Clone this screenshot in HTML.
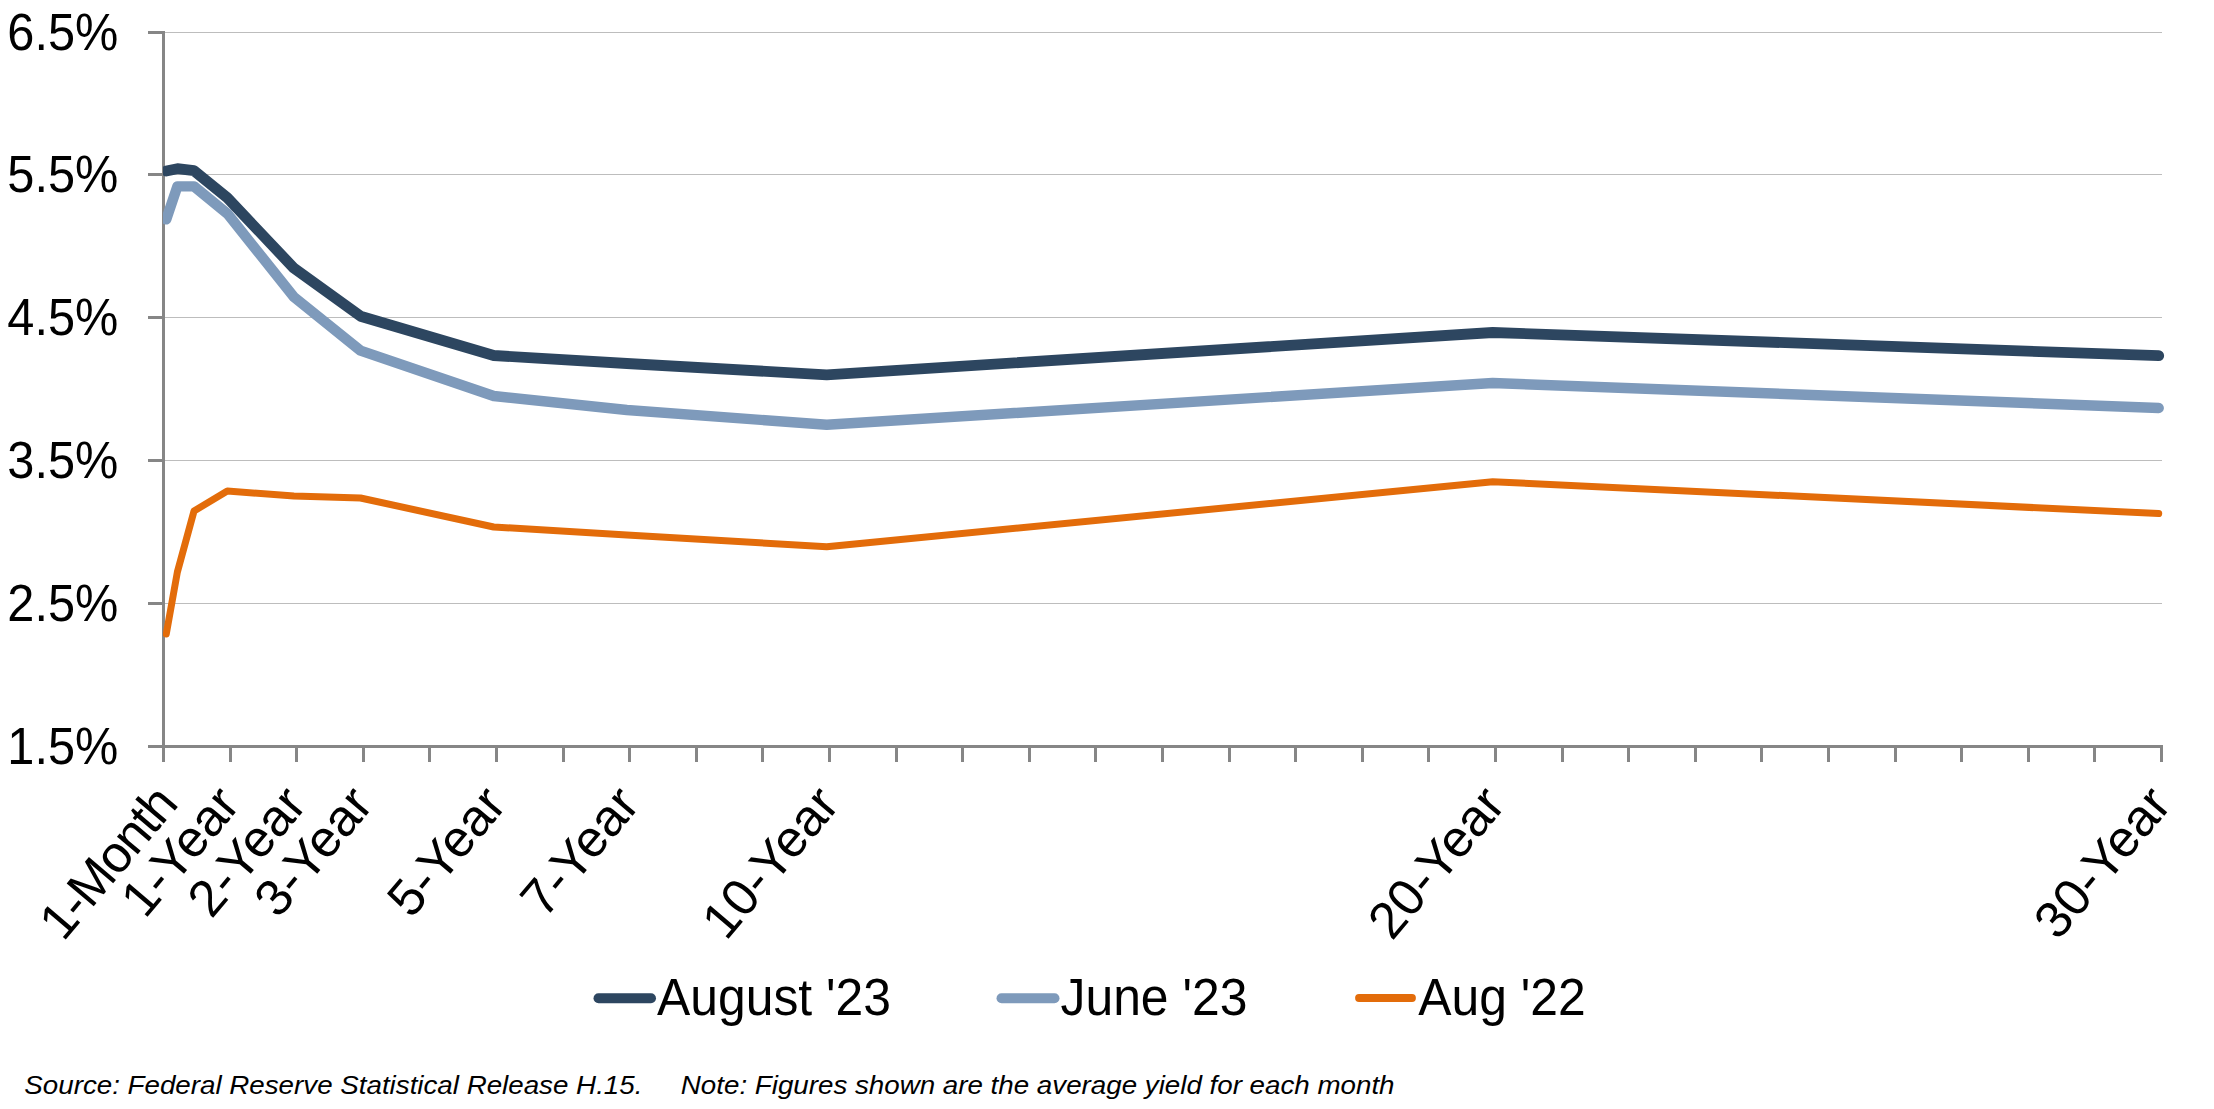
<!DOCTYPE html>
<html><head><meta charset="utf-8"><style>
html,body{margin:0;padding:0;background:#fff;}
body{width:2214px;height:1109px;overflow:hidden;font-family:"Liberation Sans",sans-serif;}
svg{display:block;}
text{font-family:"Liberation Sans",sans-serif;fill:#000;}
.yl{font-size:51.8px;}
.xl{font-size:51.5px;}
.lg{font-size:51.6px;}
.ft{font-size:26px;font-style:italic;}
</style></head><body>
<svg width="2214" height="1109" viewBox="0 0 2214 1109">
<rect width="2214" height="1109" fill="#fff"/>
<line x1="165" x2="2162" y1="32.5" y2="32.5" stroke="#bdbdbd" stroke-width="1"/><line x1="165" x2="2162" y1="174.5" y2="174.5" stroke="#bdbdbd" stroke-width="1"/><line x1="165" x2="2162" y1="317.5" y2="317.5" stroke="#bdbdbd" stroke-width="1"/><line x1="165" x2="2162" y1="460.5" y2="460.5" stroke="#bdbdbd" stroke-width="1"/><line x1="165" x2="2162" y1="603.5" y2="603.5" stroke="#bdbdbd" stroke-width="1"/>
<line x1="163.5" x2="163.5" y1="31" y2="762" stroke="#868686" stroke-width="3"/>
<line x1="148" x2="2163" y1="746.5" y2="746.5" stroke="#868686" stroke-width="3"/>
<line x1="148" x2="165" y1="32.5" y2="32.5" stroke="#868686" stroke-width="3"/><line x1="148" x2="165" y1="174.5" y2="174.5" stroke="#868686" stroke-width="3"/><line x1="148" x2="165" y1="317.5" y2="317.5" stroke="#868686" stroke-width="3"/><line x1="148" x2="165" y1="460.5" y2="460.5" stroke="#868686" stroke-width="3"/><line x1="148" x2="165" y1="603.5" y2="603.5" stroke="#868686" stroke-width="3"/><line x1="163.5" x2="163.5" y1="745" y2="762" stroke="#868686" stroke-width="3"/><line x1="230.5" x2="230.5" y1="745" y2="762" stroke="#868686" stroke-width="3"/><line x1="296.5" x2="296.5" y1="745" y2="762" stroke="#868686" stroke-width="3"/><line x1="363.5" x2="363.5" y1="745" y2="762" stroke="#868686" stroke-width="3"/><line x1="429.5" x2="429.5" y1="745" y2="762" stroke="#868686" stroke-width="3"/><line x1="496.5" x2="496.5" y1="745" y2="762" stroke="#868686" stroke-width="3"/><line x1="563.5" x2="563.5" y1="745" y2="762" stroke="#868686" stroke-width="3"/><line x1="629.5" x2="629.5" y1="745" y2="762" stroke="#868686" stroke-width="3"/><line x1="696.5" x2="696.5" y1="745" y2="762" stroke="#868686" stroke-width="3"/><line x1="762.5" x2="762.5" y1="745" y2="762" stroke="#868686" stroke-width="3"/><line x1="829.5" x2="829.5" y1="745" y2="762" stroke="#868686" stroke-width="3"/><line x1="896.5" x2="896.5" y1="745" y2="762" stroke="#868686" stroke-width="3"/><line x1="962.5" x2="962.5" y1="745" y2="762" stroke="#868686" stroke-width="3"/><line x1="1029.5" x2="1029.5" y1="745" y2="762" stroke="#868686" stroke-width="3"/><line x1="1095.5" x2="1095.5" y1="745" y2="762" stroke="#868686" stroke-width="3"/><line x1="1162.5" x2="1162.5" y1="745" y2="762" stroke="#868686" stroke-width="3"/><line x1="1229.5" x2="1229.5" y1="745" y2="762" stroke="#868686" stroke-width="3"/><line x1="1295.5" x2="1295.5" y1="745" y2="762" stroke="#868686" stroke-width="3"/><line x1="1362.5" x2="1362.5" y1="745" y2="762" stroke="#868686" stroke-width="3"/><line x1="1428.5" x2="1428.5" y1="745" y2="762" stroke="#868686" stroke-width="3"/><line x1="1495.5" x2="1495.5" y1="745" y2="762" stroke="#868686" stroke-width="3"/><line x1="1562.5" x2="1562.5" y1="745" y2="762" stroke="#868686" stroke-width="3"/><line x1="1628.5" x2="1628.5" y1="745" y2="762" stroke="#868686" stroke-width="3"/><line x1="1695.5" x2="1695.5" y1="745" y2="762" stroke="#868686" stroke-width="3"/><line x1="1761.5" x2="1761.5" y1="745" y2="762" stroke="#868686" stroke-width="3"/><line x1="1828.5" x2="1828.5" y1="745" y2="762" stroke="#868686" stroke-width="3"/><line x1="1895.5" x2="1895.5" y1="745" y2="762" stroke="#868686" stroke-width="3"/><line x1="1961.5" x2="1961.5" y1="745" y2="762" stroke="#868686" stroke-width="3"/><line x1="2028.5" x2="2028.5" y1="745" y2="762" stroke="#868686" stroke-width="3"/><line x1="2094.5" x2="2094.5" y1="745" y2="762" stroke="#868686" stroke-width="3"/><line x1="2161.5" x2="2161.5" y1="745" y2="762" stroke="#868686" stroke-width="3"/>
<defs><clipPath id="c"><rect x="163" y="0" width="2060" height="800"/></clipPath></defs>
<g clip-path="url(#c)" fill="none" stroke-linecap="round" stroke-linejoin="round">
<polyline points="166.28,634.0 177.38,572.0 194.03,511.0 227.32,491.0 293.92,496.0 360.52,498.0 493.72,527.0 626.92,535.0 826.73,546.8 1492.72,481.7 2158.72,513.6" stroke="#e36c0a" stroke-width="7"/>
<polyline points="166.28,219.4 177.38,186.4 194.03,186.4 227.32,213.6 293.92,297.0 360.52,350.6 493.72,396.0 626.92,410.0 826.73,424.8 1492.72,383.0 2158.72,408.0" stroke="#7e9abb" stroke-width="10.4"/>
<polyline points="166.28,171.0 177.38,168.7 194.03,170.7 227.32,197.8 293.92,268.2 360.52,316.2 493.72,355.5 626.92,363.5 826.73,374.8 1492.72,332.5 2158.72,355.7" stroke="#2d4660" stroke-width="10.8"/>
</g>
<text transform="translate(118.3,50.0) scale(0.94,1)" text-anchor="end" class="yl">6.5%</text><text transform="translate(118.3,192.0) scale(0.94,1)" text-anchor="end" class="yl">5.5%</text><text transform="translate(118.3,335.0) scale(0.94,1)" text-anchor="end" class="yl">4.5%</text><text transform="translate(118.3,478.0) scale(0.94,1)" text-anchor="end" class="yl">3.5%</text><text transform="translate(118.3,621.0) scale(0.94,1)" text-anchor="end" class="yl">2.5%</text><text transform="translate(118.3,764.0) scale(0.94,1)" text-anchor="end" class="yl">1.5%</text>
<text transform="translate(179.1,805.4) rotate(-49.8)" text-anchor="end" class="xl" style="letter-spacing:-1.35px">1-Month</text><text transform="translate(241.7,805.4) rotate(-49.8)" text-anchor="end" class="xl">1-Year</text><text transform="translate(308.3,805.4) rotate(-49.8)" text-anchor="end" class="xl">2-Year</text><text transform="translate(374.9,805.4) rotate(-49.8)" text-anchor="end" class="xl">3-Year</text><text transform="translate(508.1,805.4) rotate(-49.8)" text-anchor="end" class="xl">5-Year</text><text transform="translate(641.3,805.4) rotate(-49.8)" text-anchor="end" class="xl">7-Year</text><text transform="translate(841.1,805.4) rotate(-49.8)" text-anchor="end" class="xl">10-Year</text><text transform="translate(1507.1,805.4) rotate(-49.8)" text-anchor="end" class="xl">20-Year</text><text transform="translate(2173.1,805.4) rotate(-49.8)" text-anchor="end" class="xl">30-Year</text>
<g fill="none" stroke-linecap="round">
<line x1="598.5" x2="651" y1="998.3" y2="998.3" stroke="#2d4660" stroke-width="10"/>
<line x1="1001.5" x2="1054.5" y1="998.3" y2="998.3" stroke="#7e9abb" stroke-width="10"/>
<line x1="1359" x2="1412" y1="998" y2="998" stroke="#e36c0a" stroke-width="7.8"/>
</g>
<text transform="translate(657,1015.3) scale(0.966,1)" class="lg">August '23</text>
<text transform="translate(1060.5,1015.3) scale(0.966,1)" class="lg">June '23</text>
<text transform="translate(1418.3,1015.3) scale(0.966,1)" class="lg">Aug '22</text>
<text transform="translate(24.3,1094) scale(1.067,1)" class="ft">Source: Federal Reserve Statistical Release H.15.</text>
<text transform="translate(680.8,1094) scale(1.067,1)" class="ft">Note: Figures shown are the average yield for each month</text>
</svg>
</body></html>
